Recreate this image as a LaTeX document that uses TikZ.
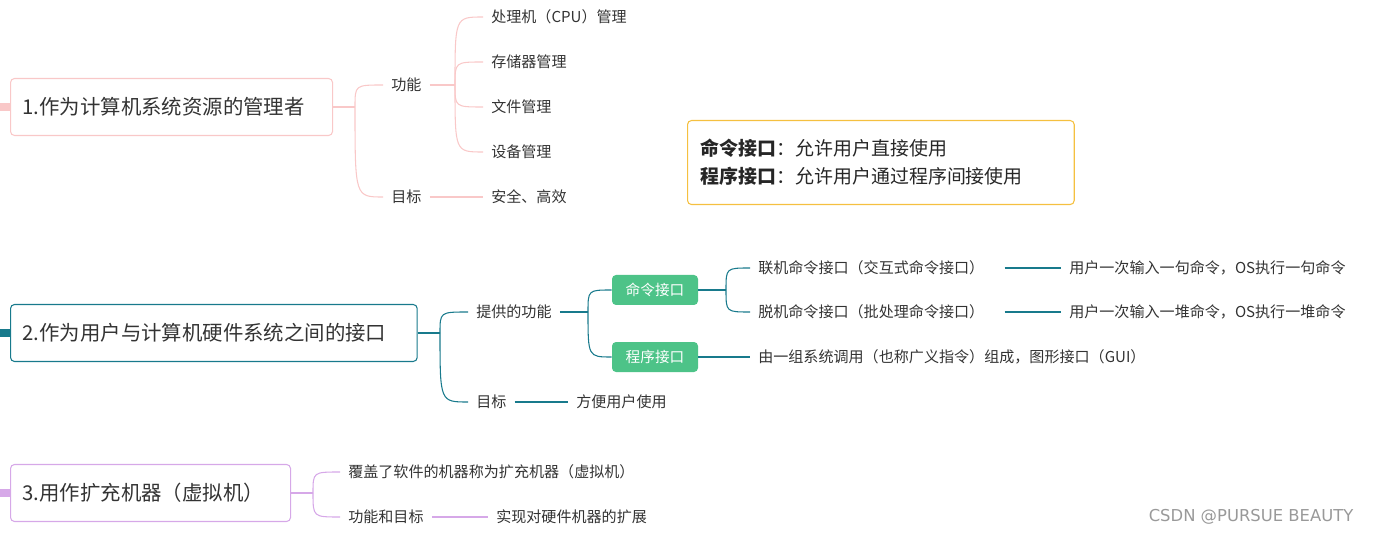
\documentclass[tikz,border=0pt]{standalone}
\usepackage{fontspec}
\setmainfont{Noto Sans CJK SC}
\begin{document}
\begin{tikzpicture}[x=0.75pt,y=-0.75pt,
  txt/.style={anchor=west,inner xsep=6pt,inner ysep=2pt,text=black!80,font=\fontsize{11.3}{12}\selectfont},
  main/.style={draw,rounded corners=3pt,line width=0.8pt,anchor=west,minimum height=42.75pt,inner xsep=9pt,align=left,text=black!80,font=\fontsize{15.3}{16}\selectfont},
  gbox/.style={fill=cgreen,rounded corners=3pt,minimum width=64.5pt,minimum height=22.5pt,text=white,font=\fontsize{11}{12}\selectfont},
  lk/.style={line width=0.8pt}]
\definecolor{cpink}{HTML}{F9C8C8}
\definecolor{cteal}{HTML}{187A8C}
\definecolor{cgreen}{HTML}{4DC388}
\definecolor{cpurp}{HTML}{D6A8E8}
\definecolor{corange}{HTML}{F5C040}
\useasboundingbox (0,0) rectangle (1373,534);

% ---- 1
\fill[cpink] (0,103) rectangle (10,111);
\node[main,draw=cpink,text width=223.5pt] (m1) at (10,107) {1.作为计算机系统资源的管理者};
\node[txt] (f1) at (383,85) {功能};
\node[txt] (g1) at (383,197) {目标};
\node[txt] (a1) at (483,17) {处理机（CPU）管理};
\node[txt] (a2) at (483,62) {存储器管理};
\node[txt] (a3) at (483,107) {文件管理};
\node[txt] (a4) at (483,152) {设备管理};
\node[txt] (b1) at (483,197) {安全、高效};
\coordinate (s1) at (355,107);
\coordinate (s1b) at (455,85);
\begin{scope}[cpink,lk]
\draw (m1.east) -- (s1);
\foreach \c in {f1,g1} \draw (s1) .. controls (s1 |- \c.west) .. (\c.west);
\draw (f1.east) -- (s1b);
\foreach \c in {a1,a2,a3,a4} \draw (s1b) .. controls (s1b |- \c.west) .. (\c.west);
\draw (g1.east) -- (b1.west);
\end{scope}

\node[draw=corange,rounded corners=3pt,line width=0.8pt,minimum width=290pt,minimum height=63pt,anchor=north west,align=left,text=black!85,font=\fontsize{14.2}{21}\selectfont,inner xsep=9pt,text width=270pt] (box) at (687,120)
 {\textbf{命令接口}：允许用户直接使用\\\textbf{程序接口}：允许用户通过程序间接使用};

% ---- 2
\fill[cteal] (0,329) rectangle (10,337);
\node[main,draw=cteal,text width=287pt] (m2) at (10,333) {2.作为用户与计算机硬件系统之间的接口};
\node[txt] (p2) at (468,312) {提供的功能};
\node[txt] (g2) at (468,402) {目标};
\node[gbox] (c1) at (655,290) {命令接口};
\node[gbox] (c2) at (655,357) {程序接口};
\node[txt] (l1) at (750,268) {联机命令接口（交互式命令接口）};
\node[txt] (l2) at (750,312) {脱机命令接口（批处理命令接口）};
\node[txt] (r1) at (1061,268) {用户一次输入一句命令，OS执行一句命令};
\node[txt] (r2) at (1061,312) {用户一次输入一堆命令，OS执行一堆命令};
\node[txt] (q1) at (750,357) {由一组系统调用（也称广义指令）组成，图形接口（GUI）};
\node[txt] (u2) at (568,402) {方便用户使用};
\coordinate (s2) at (440,333);
\coordinate (s2b) at (588,312);
\coordinate (s2c) at (726,290);
\begin{scope}[cteal,lk]
\draw (m2.east) -- (s2);
\foreach \c in {p2,g2} \draw (s2) .. controls (s2 |- \c.west) .. (\c.west);
\draw (p2.east) -- (s2b);
\foreach \c in {c1,c2} \draw (s2b) .. controls (s2b |- \c.west) .. (\c.west);
\draw (c1.east) -- (s2c);
\foreach \c in {l1,l2} \draw (s2c) .. controls (s2c |- \c.west) .. (\c.west);
\draw ([xshift=9pt]l1.east) -- (r1.west);
\draw ([xshift=9pt]l2.east) -- (r2.west);
\draw (c2.east) -- (q1.west);
\draw (g2.east) -- (u2.west);
\end{scope}

% ---- 3
\fill[cpurp] (0,489) rectangle (10,497);
\node[main,draw=cpurp,text width=192pt] (m3) at (10,493) {3.用作扩充机器（虚拟机）};
\node[txt] (v1) at (340,472) {覆盖了软件的机器称为扩充机器（虚拟机）};
\node[txt] (v2) at (340,517) {功能和目标};
\node[txt] (w2) at (488,517) {实现对硬件机器的扩展};
\coordinate (s3) at (313,493);
\begin{scope}[cpurp,lk]
\draw (m3.east) -- (s3);
\foreach \c in {v1,v2} \draw (s3) .. controls (s3 |- \c.west) .. (\c.west);
\draw (v2.east) -- (w2.west);
\end{scope}

\node[anchor=east,text=black!40,font=\fontsize{12.3}{13}\selectfont\fontspec{DejaVu Sans}] (wm) at (1358,517) {CSDN @PURSUE BEAUTY};
\end{tikzpicture}
\end{document}
